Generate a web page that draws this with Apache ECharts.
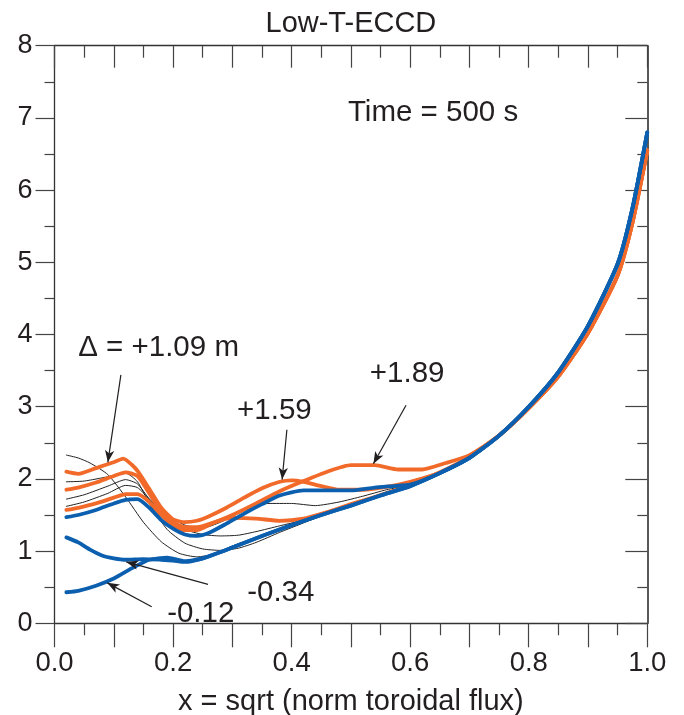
<!DOCTYPE html>
<html>
<head>
<meta charset="utf-8">
<script src="https://cdn.jsdelivr.net/npm/echarts@6/dist/echarts.min.js"></script>
<style>
  html, body { margin: 0; padding: 0; background: #fff; }
  #chart { width: 684px; height: 715px; }
</style>
</head>
<body>
<div id="chart"></div>
<script>
// q-profile vs. sqrt(normalised toroidal flux), Low-T-ECCD case at t = 500 s

// axis ticks
const xTickValues = [0.0, 0.2, 0.4, 0.6, 0.8, 1.0];
const yTickValues = [0, 1, 2, 3, 4, 5, 6, 7, 8];

// shared outer part of all profiles (x >= 0.65)
const trunkX = [0.65, 0.70, 0.75, 0.80, 0.85, 0.90, 0.95, 0.975, 1.0];
const trunkBlue = [2.08, 2.29, 2.60, 3.00, 3.48, 4.12, 4.98, 5.75, 6.80];
const trunkOrange = [2.09, 2.30, 2.60, 2.98, 3.42, 4.02, 4.82, 5.55, 6.55];

// thin black profiles (intermediate cases)
const k1X = [0.02, 0.04, 0.06, 0.09, 0.12, 0.15, 0.18, 0.21, 0.24, 0.27, 0.30, 0.35, 0.40, 0.45, 0.50, 0.55, 0.60];
const k1Y = [2.33, 2.29, 2.22, 2.06, 1.75, 1.40, 1.13, 0.97, 0.92, 0.96, 1.07, 1.22, 1.37, 1.51, 1.64, 1.78, 1.91];
const k2X = [0.02, 0.05, 0.09, 0.12, 0.14, 0.16, 0.19, 0.22, 0.25, 0.28, 0.31, 0.34, 0.38, 0.42, 0.46, 0.50, 0.55, 0.60];
const k2Y = [1.96, 1.97, 2.03, 2.08, 1.96, 1.66, 1.30, 1.11, 1.03, 1.01, 1.04, 1.12, 1.26, 1.39, 1.52, 1.65, 1.79, 1.91];
const k3X = [0.02, 0.05, 0.09, 0.12, 0.14, 0.16, 0.19, 0.22, 0.25, 0.28, 0.31, 0.34, 0.38, 0.42, 0.46, 0.50, 0.55, 0.60];
const k3Y = [1.72, 1.78, 1.90, 1.99, 1.93, 1.72, 1.46, 1.30, 1.23, 1.21, 1.22, 1.27, 1.35, 1.43, 1.53, 1.65, 1.79, 1.91];
const k4X = [0.02, 0.05, 0.09, 0.12, 0.14, 0.16, 0.19, 0.22, 0.25, 0.28, 0.32, 0.36, 0.40, 0.44, 0.48, 0.52, 0.56, 0.60];
const k4Y = [1.62, 1.68, 1.80, 1.91, 1.88, 1.72, 1.50, 1.36, 1.32, 1.40, 1.56, 1.66, 1.66, 1.63, 1.68, 1.76, 1.85, 1.92];

// orange profiles (positive shifts)
const o1X = [0.02, 0.04, 0.07, 0.10, 0.116, 0.13, 0.141, 0.16, 0.18, 0.20, 0.22, 0.24, 0.26, 0.29, 0.32, 0.35, 0.38, 0.40, 0.42, 0.45, 0.48, 0.52, 0.56, 0.60];
const o1Y = [2.10, 2.07, 2.15, 2.23, 2.28, 2.20, 2.10, 1.86, 1.60, 1.44, 1.40, 1.42, 1.48, 1.60, 1.74, 1.87, 1.96, 1.98, 1.96, 1.90, 1.85, 1.85, 1.89, 1.96];
const o2X = [0.02, 0.04, 0.07, 0.10, 0.12, 0.14, 0.16, 0.18, 0.20, 0.22, 0.24, 0.27, 0.30, 0.34, 0.38, 0.42, 0.46, 0.50, 0.54, 0.58, 0.62, 0.66, 0.70];
const o2Y = [1.85, 1.88, 1.95, 2.04, 2.09, 2.04, 1.80, 1.55, 1.40, 1.33, 1.33, 1.40, 1.50, 1.66, 1.83, 1.97, 2.10, 2.19, 2.19, 2.13, 2.13, 2.22, 2.33];
const o3X = [0.02, 0.04, 0.07, 0.10, 0.12, 0.14, 0.16, 0.18, 0.20, 0.22, 0.24, 0.27, 0.30, 0.34, 0.38, 0.42, 0.46, 0.50, 0.54, 0.58, 0.62];
const o3Y = [1.57, 1.60, 1.66, 1.74, 1.79, 1.79, 1.68, 1.50, 1.36, 1.29, 1.29, 1.40, 1.46, 1.45, 1.42, 1.45, 1.54, 1.65, 1.75, 1.86, 1.98];

// blue profiles (negative shifts and reference)
const b1X = [0.02, 0.04, 0.07, 0.10, 0.12, 0.14, 0.16, 0.18, 0.20, 0.22, 0.24, 0.26, 0.29, 0.32, 0.35, 0.38, 0.42, 0.46, 0.50, 0.54, 0.57, 0.60];
const b1Y = [1.47, 1.50, 1.57, 1.66, 1.71, 1.72, 1.60, 1.43, 1.31, 1.23, 1.21, 1.25, 1.38, 1.52, 1.65, 1.77, 1.84, 1.84, 1.84, 1.88, 1.90, 1.92];
const b2X = [0.02, 0.04, 0.06, 0.08, 0.10, 0.12, 0.15, 0.18, 0.20, 0.22, 0.25, 0.30, 0.35, 0.40, 0.45, 0.50, 0.55, 0.60];
const b2Y = [1.19, 1.12, 1.02, 0.94, 0.90, 0.88, 0.89, 0.88, 0.87, 0.85, 0.90, 1.05, 1.21, 1.36, 1.50, 1.63, 1.77, 1.90];
const b3X = [0.02, 0.04, 0.07, 0.10, 0.13, 0.16, 0.19, 0.22, 0.25, 0.30, 0.35, 0.40, 0.45, 0.50, 0.55, 0.60];
const b3Y = [0.43, 0.45, 0.52, 0.62, 0.76, 0.88, 0.91, 0.86, 0.90, 1.05, 1.21, 1.36, 1.50, 1.63, 1.77, 1.90];

// annotations in data coordinates: text anchor (left, middle) and arrow start -> tip
const notes = [
  { text: 'Δ = +1.09 m', at: [0.040, 3.83], from: [0.112, 3.44], to: [0.090, 2.23] },
  { text: '+1.59', at: [0.308, 2.96], from: [0.392, 2.68], to: [0.384, 1.99] },
  { text: '+1.89', at: [0.532, 3.47], from: [0.593, 3.02], to: [0.538, 2.21] },
  { text: '-0.34', at: [0.325, 0.44], from: [0.259, 0.54], to: [0.121, 0.85] },
  { text: '-0.12', at: [0.190, 0.15], from: [0.164, 0.23], to: [0.089, 0.56] }
];
const timeNote = { text: 'Time = 500 s', at: [0.495, 7.08] };
const titleText = 'Low-T-ECCD';
const xName = 'x = sqrt (norm toroidal flux)';

const FONT = '"Liberation Sans", Arial, Helvetica, sans-serif';
const INK = '#231f20';
const ORANGE = '#f26a2a';
const BLUE = '#0b5fae';

function zip(xs, ys) { return xs.map((x, i) => [x, ys[i]]); }
function withTrunk(xs, ys, trunkY, fromX) {
  const pts = zip(xs, ys);
  trunkX.forEach((x, i) => { if (x >= fromX) pts.push([x, trunkY[i]]); });
  return pts;
}

function lineSeries(name, data, color, width) {
  return {
    name, type: 'line', data, showSymbol: false, symbol: 'none',
    smooth: 0.2, clip: true, silent: true,
    lineStyle: { color, width, cap: 'round', join: 'round' },
    z: width > 2 ? 3 : 2
  };
}

const chart = echarts.init(document.getElementById('chart'), null, { renderer: 'canvas' });

const series = [
  lineSeries('k1', withTrunk(k1X, k1Y, trunkBlue, 0.65), '#222', 1),
  lineSeries('k2', withTrunk(k2X, k2Y, trunkBlue, 0.65), '#222', 1),
  lineSeries('k3', withTrunk(k3X, k3Y, trunkBlue, 0.65), '#222', 1),
  lineSeries('k4', withTrunk(k4X, k4Y, trunkBlue, 0.65), '#222', 1),
  lineSeries('o3', withTrunk(o3X, o3Y, trunkOrange, 0.65), ORANGE, 3.8),
  lineSeries('o2', withTrunk(o2X, o2Y, trunkOrange, 0.75), ORANGE, 3.8),
  lineSeries('o1', withTrunk(o1X, o1Y, trunkOrange, 0.65), ORANGE, 3.8),
  lineSeries('b3', withTrunk(b3X, b3Y, trunkBlue, 0.65), BLUE, 3.8),
  lineSeries('b2', withTrunk(b2X, b2Y, trunkBlue, 0.65), BLUE, 3.8),
  lineSeries('b1', withTrunk(b1X, b1Y, trunkBlue, 0.65), BLUE, 3.8)
];
series[0].markLine = {
  silent: true, animation: false,
  symbol: ['none', 'arrow'], symbolSize: [7, 12],
  label: { show: false },
  lineStyle: { color: INK, width: 1.2, type: 'solid' },
  data: notes.map(n => [{ coord: n.from }, { coord: n.to }])
};

const axisLineStyle = { color: '#333', width: 1.3 };
const tickStyle = { color: '#444', width: 1.2 };

chart.setOption({
  animation: false,
  backgroundColor: '#fff',
  grid: { left: 54.5, right: 36.7, top: 45.7, bottom: 91.7, containLabel: false, outerBoundsMode: 'none' },
  xAxis: [
    {
      type: 'value', position: 'bottom', min: 0, max: 1, interval: 0.1,
      axisLine: { show: true, onZero: false, lineStyle: axisLineStyle },
      axisTick: { show: true, inside: false, length: 24, lineStyle: tickStyle },
      minorTick: { show: true, splitNumber: 2, length: 12, lineStyle: tickStyle },
      splitLine: { show: false }, minorSplitLine: { show: false },
      axisLabel: {
        fontFamily: FONT, fontSize: 27.5, color: INK, margin: 26,
        formatter: v => {
          const hit = xTickValues.find(t => Math.abs(t - v) < 1e-6);
          return hit === undefined ? '' : hit.toFixed(1);
        }
      },
      name: xName, nameLocation: 'middle', nameGap: 64,
      nameTextStyle: { fontFamily: FONT, fontSize: 29, color: INK }
    },
    {
      type: 'value', position: 'top', min: 0, max: 1, interval: 0.1,
      axisLine: { show: true, onZero: false, lineStyle: axisLineStyle },
      axisTick: { show: true, inside: true, length: 22, lineStyle: tickStyle },
      minorTick: { show: true, splitNumber: 2, length: 12, lineStyle: tickStyle },
      splitLine: { show: false }, axisLabel: { show: false }
    }
  ],
  yAxis: [
    {
      type: 'value', position: 'left', min: 0, max: 8, interval: 1,
      axisLine: { show: true, onZero: false, lineStyle: axisLineStyle },
      axisTick: { show: true, inside: false, length: 19, lineStyle: tickStyle },
      minorTick: { show: true, splitNumber: 2, length: 10, lineStyle: tickStyle },
      splitLine: { show: false }, minorSplitLine: { show: false },
      axisLabel: {
        fontFamily: FONT, fontSize: 27, color: INK, margin: 22,
        formatter: v => (yTickValues.includes(v) ? String(v) : '')
      }
    },
    {
      type: 'value', position: 'right', min: 0, max: 8, interval: 1,
      axisLine: { show: true, onZero: false, lineStyle: { color: '#222', width: 1.5 } },
      axisTick: { show: true, inside: true, length: 22, lineStyle: tickStyle },
      minorTick: { show: true, splitNumber: 2, length: 10, lineStyle: tickStyle },
      splitLine: { show: false }, axisLabel: { show: false }
    }
  ],
  series
});

// text annotations placed through the grid's own coordinate conversion
function px(pt) { return chart.convertToPixel({ gridIndex: 0 }, pt); }
const texts = notes.concat([timeNote]).map(n => {
  const p = px(n.at);
  return {
    type: 'text', silent: true, z: 10,
    style: { text: n.text, x: p[0], y: p[1] + 1, align: 'left', verticalAlign: 'middle',
             fontFamily: FONT, fontSize: 29.5, fill: INK }
  };
});
const mid = px([0.5, 8]);
texts.push({
  type: 'text', silent: true, z: 10,
  style: { text: titleText, x: mid[0], y: 24, align: 'center', verticalAlign: 'middle',
           fontFamily: FONT, fontSize: 29, fill: INK }
});
chart.setOption({ graphic: texts });
</script>
</body>
</html>
